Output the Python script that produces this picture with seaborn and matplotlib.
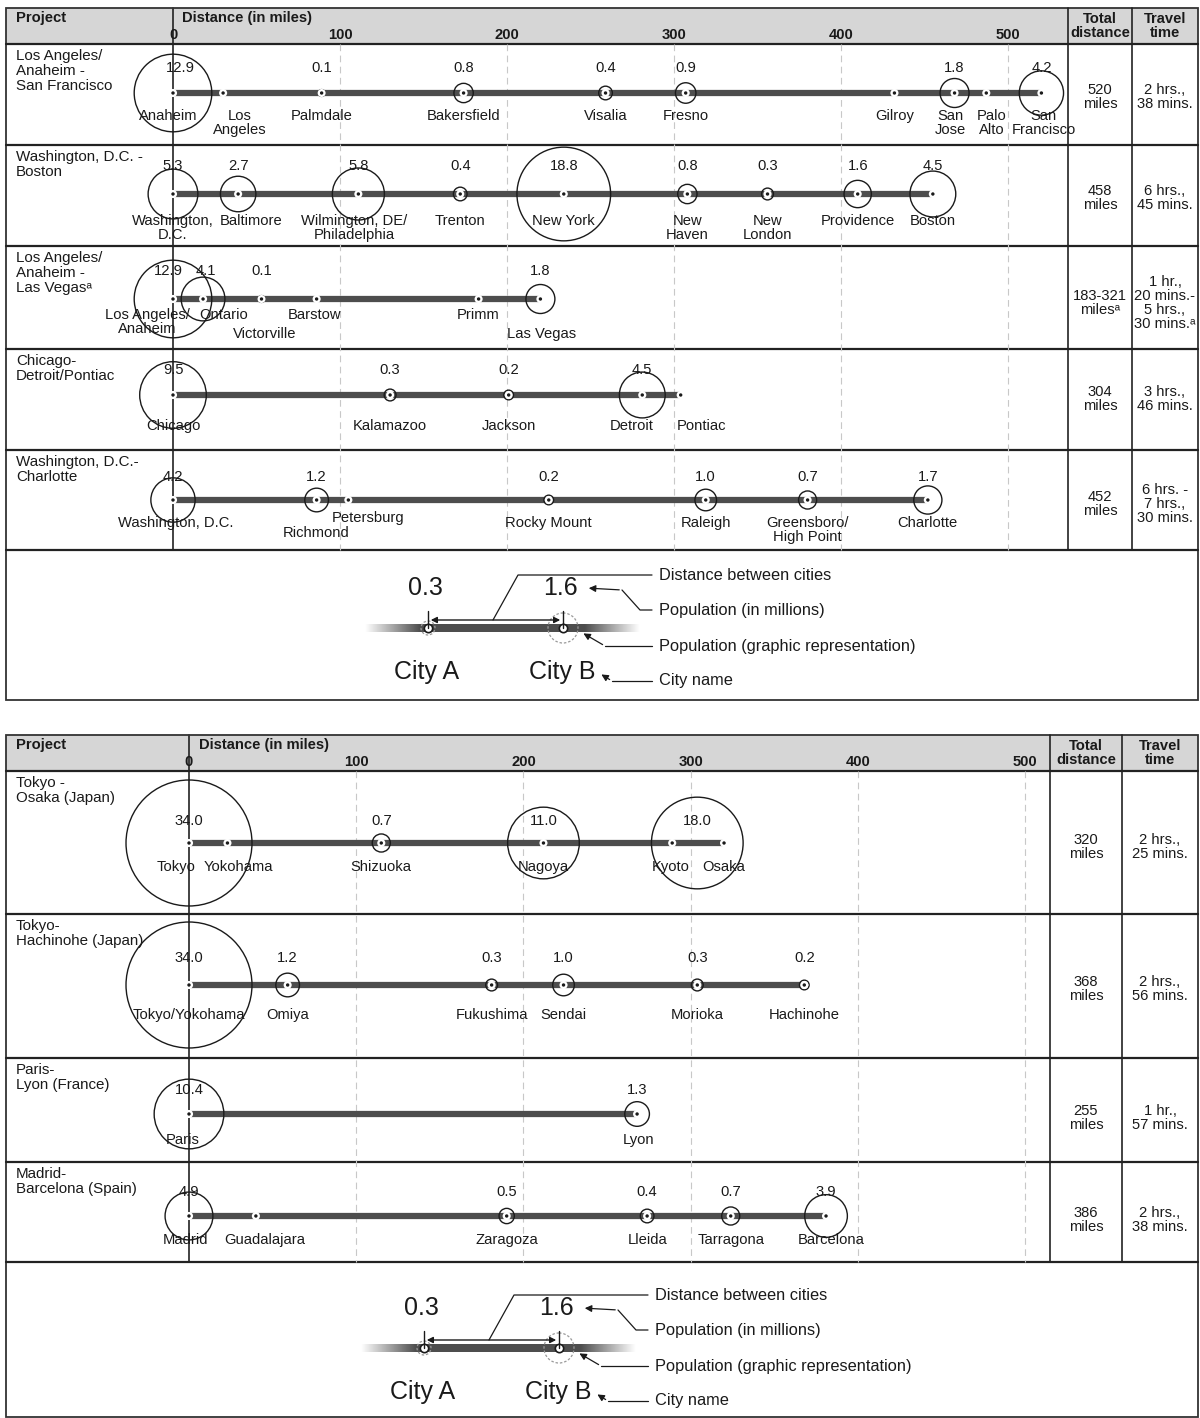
import numpy as np
import pandas as pd
import matplotlib.pyplot as plt
import seaborn as sns
from matplotlib.patches import Circle, Rectangle
from matplotlib.colors import to_rgb

# --- Data: cities along each corridor (miles from origin), metro population (millions) ---

# US corridors
la_sf_cities = ["Anaheim", "Los\nAngeles", "Palmdale", "Bakersfield", "Visalia", "Fresno",
                "Gilroy", "San\nJose", "Palo\nAlto", "San\nFrancisco"]
la_sf_miles = [0, 30, 89, 174, 259, 307, 432, 468, 487, 520]
la_sf_pop_miles = [0, 89, 174, 259, 307, 468, 520]
la_sf_pop = [12.9, 0.1, 0.8, 0.4, 0.9, 1.8, 4.2]

dc_bos_cities = ["Washington,\nD.C.", "Baltimore", "Wilmington, DE/\nPhiladelphia", "Trenton",
                 "New York", "New\nHaven", "New\nLondon", "Providence", "Boston"]
dc_bos_miles = [0, 39, 111, 172, 234, 308, 356, 410, 455]
dc_bos_pop_miles = [0, 39, 111, 172, 234, 308, 356, 410, 455]
dc_bos_pop = [5.3, 2.7, 5.8, 0.4, 18.8, 0.8, 0.3, 1.6, 4.5]

la_lv_cities = ["Los Angeles/\nAnaheim", "Ontario", "Victorville", "Barstow", "Primm", "Las Vegas"]
la_lv_miles = [0, 18, 53, 86, 183, 220]
la_lv_pop_miles = [0, 18, 53, 220]
la_lv_pop = [12.9, 4.1, 0.1, 1.8]

chi_det_cities = ["Chicago", "Kalamazoo", "Jackson", "Detroit", "Pontiac"]
chi_det_miles = [0, 130, 201, 281, 304]
chi_det_pop_miles = [0, 130, 201, 281]
chi_det_pop = [9.5, 0.3, 0.2, 4.5]

dc_clt_cities = ["Washington, D.C.", "Richmond", "Petersburg", "Rocky Mount", "Raleigh",
                 "Greensboro/\nHigh Point", "Charlotte"]
dc_clt_miles = [0, 86, 105, 225, 319, 380, 452]
dc_clt_pop_miles = [0, 86, 225, 319, 380, 452]
dc_clt_pop = [4.2, 1.2, 0.2, 1.0, 0.7, 1.7]

us_projects = ["Los Angeles/\nAnaheim -\nSan Francisco", "Washington, D.C. -\nBoston",
               "Los Angeles/\nAnaheim -\nLas Vegas\u1d43", "Chicago-\nDetroit/Pontiac",
               "Washington, D.C.-\nCharlotte"]
us_totals = ["520\nmiles", "458\nmiles", "183-321\nmiles\u1d43", "304\nmiles", "452\nmiles"]
us_times = ["2 hrs.,\n38 mins.", "6 hrs.,\n45 mins.", "1 hr.,\n20 mins.-\n5 hrs.,\n30 mins.\u1d43",
            "3 hrs.,\n46 mins.", "6 hrs. -\n7 hrs.,\n30 mins."]

# Foreign corridors
tyo_osa_cities = ["Tokyo", "Yokohama", "Shizuoka", "Nagoya", "Kyoto", "Osaka"]
tyo_osa_miles = [0, 23, 115, 212, 289, 320]
tyo_osa_pop_miles = [0, 115, 212, 304]
tyo_osa_pop = [34.0, 0.7, 11.0, 18.0]

tyo_hac_cities = ["Tokyo/Yokohama", "Omiya", "Fukushima", "Sendai", "Morioka", "Hachinohe"]
tyo_hac_miles = [0, 59, 181, 224, 304, 368]
tyo_hac_pop_miles = [0, 59, 181, 224, 304, 368]
tyo_hac_pop = [34.0, 1.2, 0.3, 1.0, 0.3, 0.2]

par_lyo_cities = ["Paris", "Lyon"]
par_lyo_miles = [0, 268]
par_lyo_pop_miles = [0, 268]
par_lyo_pop = [10.4, 1.3]

mad_bcn_cities = ["Madrid", "Guadalajara", "Zaragoza", "Lleida", "Tarragona", "Barcelona"]
mad_bcn_miles = [0, 40, 190, 274, 324, 381]
mad_bcn_pop_miles = [0, 190, 274, 324, 381]
mad_bcn_pop = [4.9, 0.5, 0.4, 0.7, 3.9]

intl_projects = ["Tokyo -\nOsaka (Japan)", "Tokyo-\nHachinohe (Japan)", "Paris-\nLyon (France)",
                 "Madrid-\nBarcelona (Spain)"]
intl_totals = ["320\nmiles", "368\nmiles", "255\nmiles", "386\nmiles"]
intl_times = ["2 hrs.,\n25 mins.", "2 hrs.,\n56 mins.", "1 hr.,\n57 mins.", "2 hrs.,\n38 mins."]

dist_ticks = [0, 100, 200, 300, 400, 500]

# --- Layout (pixels of the 1200x1418 output) ---
W, H = 1200, 1418
LINE_GREY = "#4d4d4d"
HEADER_GREY = "#d6d6d6"
INK = "#1a1a1a"
FS = 10.6
S_PER_MILLION = 242  # scatter area (pt^2) per million people -> radius ~ sqrt(pop)

panels = [
    dict(top=8, bottom=700, header=44, rows_bottom=550, zero=173, ppm=1.67,
         col_total=1068, col_time=1132, row_tops=[44, 145, 246, 349, 450],
         line_y=[93, 194, 299, 395, 500], num_dy=[-25, -28, -28, -25, -23],
         name_dy=[16, 20, 9, 24, 16], dist_x=182,
         routes=[("la_sf", la_sf_cities, la_sf_miles, la_sf_pop_miles, la_sf_pop),
                 ("dc_bos", dc_bos_cities, dc_bos_miles, dc_bos_pop_miles, dc_bos_pop),
                 ("la_lv", la_lv_cities, la_lv_miles, la_lv_pop_miles, la_lv_pop),
                 ("chi_det", chi_det_cities, chi_det_miles, chi_det_pop_miles, chi_det_pop),
                 ("dc_clt", dc_clt_cities, dc_clt_miles, dc_clt_pop_miles, dc_clt_pop)],
         projects=us_projects, totals=us_totals, times=us_times, legend=(0, 0)),
    dict(top=735, bottom=1417, header=771, rows_bottom=1262, zero=189, ppm=1.672,
         col_total=1050, col_time=1122, row_tops=[771, 914, 1058, 1162],
         line_y=[843, 985, 1114, 1216], num_dy=[-22, -27, -24, -24],
         name_dy=[17, 23, 19, 17], dist_x=199,
         routes=[("tyo_osa", tyo_osa_cities, tyo_osa_miles, tyo_osa_pop_miles, tyo_osa_pop),
                 ("tyo_hac", tyo_hac_cities, tyo_hac_miles, tyo_hac_pop_miles, tyo_hac_pop),
                 ("par_lyo", par_lyo_cities, par_lyo_miles, par_lyo_pop_miles, par_lyo_pop),
                 ("mad_bcn", mad_bcn_cities, mad_bcn_miles, mad_bcn_pop_miles, mad_bcn_pop)],
         projects=intl_projects, totals=intl_totals, times=intl_times, legend=(-4, 720)),
]

# label nudges in pixels (dx, dy) for crowded city names
name_nudge = {
    ("la_sf", "Anaheim"): (-5, 0), ("la_sf", "Los\nAngeles"): (17, 0),
    ("la_sf", "San\nJose"): (-4, 0), ("la_sf", "Palo\nAlto"): (5, 0),
    ("la_sf", "San\nFrancisco"): (2, 0),
    ("dc_bos", "Baltimore"): (13, 0), ("dc_bos", "Wilmington, DE/\nPhiladelphia"): (-4, 0),
    ("la_lv", "Los Angeles/\nAnaheim"): (-26, 0), ("la_lv", "Ontario"): (21, 0),
    ("la_lv", "Victorville"): (3, 19), ("la_lv", "Barstow"): (-2, 0),
    ("la_lv", "Las Vegas"): (1, 19),
    ("chi_det", "Detroit"): (-11, 0), ("chi_det", "Pontiac"): (21, 0),
    ("dc_clt", "Washington, D.C."): (3, 0), ("dc_clt", "Richmond"): (0, 10),
    ("dc_clt", "Petersburg"): (20, -5),
    ("tyo_osa", "Tokyo"): (-13, 0), ("tyo_osa", "Yokohama"): (11, 0), ("tyo_osa", "Kyoto"): (-2, 0),
    ("par_lyo", "Paris"): (-6, 0), ("par_lyo", "Lyon"): (1, 0),
    ("mad_bcn", "Madrid"): (-3, 0), ("mad_bcn", "Guadalajara"): (9, 0),
    ("mad_bcn", "Barcelona"): (5, 0),
}
num_nudge = {("la_sf", 0): 7, ("la_lv", 0): -5, ("la_lv", 1): 3}

sns.set_theme(style="white")
plt.rcParams['font.family'] = ['Liberation Sans', 'DejaVu Sans']
plt.rcParams['font.size'] = FS

fig = plt.figure(figsize=(12, 14.18), dpi=100)
fig.patch.set_facecolor("white")

# background axes in pixel coordinates for the table frames and the legends
bg = fig.add_axes([0, 0, 1, 1])
bg.set_axis_off()


def draw_legend(ax, dx, dy):
    def P(x, y):
        return x + dx, y + dy
    # route bar with faded ends, drawn as a smooth horizontal gradient
    grey = np.array(to_rgb(LINE_GREY))
    xs = np.linspace(365, 640, 276)
    f = np.clip(np.minimum((xs - 365) / 55, (640 - xs) / 55), 0, 1)
    img = (1 - f[:, None] * (1 - grey))[None, :, :]
    ax.imshow(img, extent=(365 + dx, 640 + dx, 632 + dy, 624 + dy), aspect="auto",
              interpolation="bilinear", zorder=2)
    for cx, r in [(428, 7), (563, 15)]:
        ax.add_patch(Circle(P(cx, 628), r, fill=False, ec="#9a9a9a", lw=0.9, ls=(0, (2, 1.5)), zorder=3))
        ax.plot(*P(cx, 628), 'o', ms=6, mfc="white", mec=INK, mew=1.2, zorder=4)
        ax.plot([cx + dx, cx + dx], [611 + dy, 628 + dy], color=INK, lw=1.0, zorder=4)
    ax.annotate("", xy=P(428, 620), xytext=P(563, 620),
                arrowprops=dict(arrowstyle="<|-|>", color=INK, lw=1.0, mutation_scale=9), zorder=5)
    ax.text(*P(425, 588), "0.3", ha="center", va="center", fontsize=18, color=INK)
    ax.text(*P(560, 588), "1.6", ha="center", va="center", fontsize=18, color=INK)
    ax.text(*P(427, 672), "City A", ha="center", va="center", fontsize=18, color=INK)
    ax.text(*P(562, 672), "City B", ha="center", va="center", fontsize=18, color=INK)
    # leaders
    x0, y0 = P(493, 620); x1, y1 = P(518, 575); x2, y2 = P(652, 575)
    ax.plot([x0, x1, x2], [y0, y1, y2], color=INK, lw=0.9)
    x0, y0 = P(652, 610); x1, y1 = P(640, 610); x2, y2 = P(622, 590)
    ax.plot([x0, x1, x2], [y0, y1, y2], color=INK, lw=0.9)
    ax.annotate("", xy=P(586, 588), xytext=(x2, y2),
                arrowprops=dict(arrowstyle="-|>", color=INK, lw=0.9, mutation_scale=10))
    x0, y0 = P(652, 646); x1, y1 = P(605, 646)
    ax.plot([x0, x1], [y0, y1], color=INK, lw=0.9)
    ax.annotate("", xy=P(581, 632), xytext=(x1, y1),
                arrowprops=dict(arrowstyle="-|>", color=INK, lw=0.9, mutation_scale=10))
    x0, y0 = P(652, 681); x1, y1 = P(612, 681)
    ax.plot([x0, x1], [y0, y1], color=INK, lw=0.9)
    ax.annotate("", xy=P(599, 673), xytext=(x1, y1),
                arrowprops=dict(arrowstyle="-|>", color=INK, lw=0.9, mutation_scale=10))
    for y, t in [(575, "Distance between cities"), (610, "Population (in millions)"),
                 (646, "Population (graphic representation)"), (681, "City name")]:
        ax.text(659 + dx, y + dy, t, ha="left", va="center", fontsize=11.8, color=INK)


for pn in panels:
    top, bottom, header, rows_bottom = pn["top"], pn["bottom"], pn["header"], pn["rows_bottom"]
    # frame, header band, row separators and column rules
    bg.add_patch(Rectangle((6, top), 1192, header - top, fc=HEADER_GREY, ec="none", zorder=0))
    bg.add_patch(Rectangle((6, top), 1192, bottom - top, fill=False, ec="#333333", lw=1.3, zorder=6))
    for y in [header] + pn["row_tops"][1:] + [rows_bottom]:
        bg.plot([6, 1198], [y, y], color="#222222", lw=1.6, zorder=6)
    for x in [pn["col_total"], pn["col_time"]]:
        bg.plot([x, x], [top, rows_bottom], color="#222222", lw=1.2, zorder=6)
    bg.plot([pn["zero"], pn["zero"]], [top, rows_bottom], color="#222222", lw=1.2, zorder=1)

    bg.text(16, top + 10, "Project", weight="bold", ha="left", va="center", fontsize=FS, color=INK)
    bg.text(pn["dist_x"], top + 10, "Distance (in miles)", weight="bold", ha="left", va="center",
            fontsize=FS, color=INK)
    cx_tot = (pn["col_total"] + pn["col_time"]) / 2
    cx_time = (pn["col_time"] + 1198) / 2
    bg.text(cx_tot, (top + header) / 2, "Total\ndistance", weight="bold", ha="center", va="center",
            fontsize=FS, linespacing=0.95, color=INK)
    bg.text(cx_time, (top + header) / 2, "Travel\ntime", weight="bold", ha="center", va="center",
            fontsize=FS, linespacing=0.95, color=INK)

    for i, rt in enumerate(pn["row_tops"]):
        bg.text(16, rt + 5, pn["projects"][i], ha="left", va="top", fontsize=FS + 0.3,
                linespacing=1.08, color=INK)
        yc = pn["line_y"][i] + 4
        bg.text(cx_tot, yc, pn["totals"][i], ha="center", va="center", fontsize=FS,
                linespacing=1.05, color=INK)
        bg.text(cx_time, yc, pn["times"][i], ha="center", va="center", fontsize=FS,
                linespacing=1.0, color=INK)

    # route axes: x in miles, y in the same pixel rows as the frame
    ax = fig.add_axes([6 / W, 1 - bottom / H, 1192 / W, (bottom - top) / H])
    ax.patch.set_alpha(0)
    ppm, zero = pn["ppm"], pn["zero"]

    ax.vlines(dist_ticks[1:], header, rows_bottom, colors="#c8c8c8", lw=0.8,
              linestyles=(0, (6, 4)), zorder=0)
    for t in dist_ticks:
        ax.text(t, header - 9, str(t), ha="center", va="center", weight="bold", fontsize=FS, color=INK)

    for i, (key, cities, miles, pop_miles, pops) in enumerate(pn["routes"]):
        y = pn["line_y"][i]
        route = pd.DataFrame({"mile": miles, "y": [y] * len(miles), "city": cities})
        sns.lineplot(data=route, x="mile", y="y", estimator=None, sort=False, color=LINE_GREY,
                     lw=4.5, solid_capstyle="butt", ax=ax, zorder=2)
        pop_df = pd.DataFrame({"mile": pop_miles, "pop": pops})
        ax.scatter(pop_df["mile"], [y] * len(pop_df), s=pop_df["pop"] * S_PER_MILLION,
                   facecolors="none", edgecolors=INK, linewidths=1.0, zorder=3)
        sns.scatterplot(data=route, x="mile", y="y", color="white", s=34, edgecolor="none",
                        ax=ax, zorder=4, legend=False)
        sns.scatterplot(data=route, x="mile", y="y", color=INK, s=6, edgecolor="none",
                        ax=ax, zorder=5, legend=False)
        for j, (m, p) in enumerate(zip(pop_miles, pops)):
            nx = m + num_nudge.get((key, j), 0) / ppm
            ax.text(nx, y + pn["num_dy"][i], f"{p:.1f}", ha="center", va="center",
                    fontsize=FS, color=INK, zorder=6)
        for c, m in zip(cities, miles):
            ndx, ndy = name_nudge.get((key, c), (0, 0))
            ax.text(m + ndx / ppm, y + pn["name_dy"][i] + ndy, c, ha="center", va="top",
                    fontsize=FS, linespacing=1.0, color=INK, zorder=6)

    ax.set_xlim((6 - zero) / ppm, (1198 - zero) / ppm)
    ax.set_ylim(bottom, top)
    ax.set_axis_off()

    draw_legend(bg, *pn["legend"])

bg.set_xlim(0, W)
bg.set_ylim(H, 0)

fig.savefig("out.png", dpi=100, facecolor="white")
